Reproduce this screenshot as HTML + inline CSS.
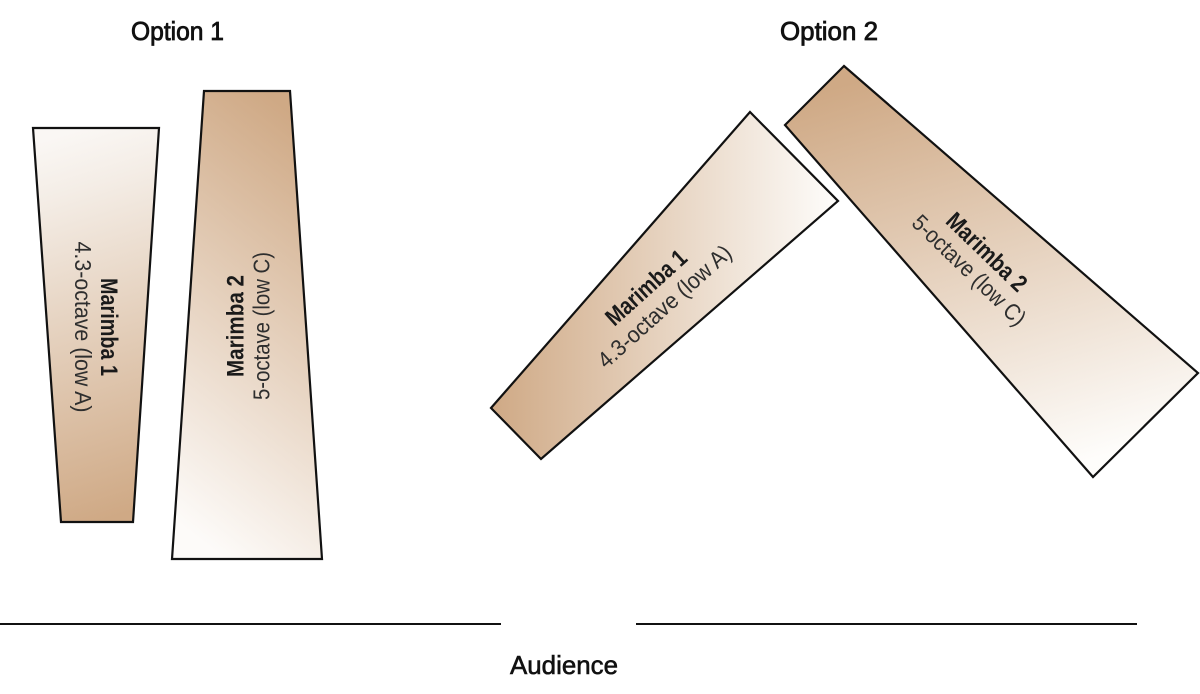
<!DOCTYPE html>
<html>
<head>
<meta charset="utf-8">
<style>
  html, body { margin:0; padding:0; background:#ffffff; }
  body { width:1200px; height:694px; overflow:hidden; }
  svg { display:block; }
  text { font-family: "Liberation Sans", "DejaVu Sans", sans-serif; }
</style>
</head>
<body>
<svg width="1200" height="694" viewBox="0 0 1200 694" xmlns="http://www.w3.org/2000/svg">
  <defs>
    <linearGradient id="g1" x1="0.4" y1="0" x2="0.5" y2="1">
      <stop offset="0" stop-color="#faf7f4"/>
      <stop offset="0.15" stop-color="#f4ede6"/>
      <stop offset="1" stop-color="#cfa985"/>
    </linearGradient>
    <linearGradient id="g2" x1="0.6" y1="0" x2="0.35" y2="1">
      <stop offset="0" stop-color="#cfa985"/>
      <stop offset="1" stop-color="#fdfbf9"/>
    </linearGradient>
    <linearGradient id="g3" x1="0" y1="0.5" x2="1" y2="0.5">
      <stop offset="0" stop-color="#cfa985"/>
      <stop offset="1" stop-color="#fefdfb"/>
    </linearGradient>
    <linearGradient id="g4" x1="0.3" y1="0" x2="0.6" y2="1">
      <stop offset="0" stop-color="#cfa985"/>
      <stop offset="1" stop-color="#fefdfb"/>
    </linearGradient>
  </defs>

  <!-- Titles -->
  <text x="131" y="40" font-size="26" fill="#111" stroke="#111" stroke-width="0.8" textLength="93" lengthAdjust="spacingAndGlyphs">Option 1</text>
  <text x="780" y="40" font-size="26" fill="#111" stroke="#111" stroke-width="0.8" textLength="98" lengthAdjust="spacingAndGlyphs">Option 2</text>

  <!-- Option 1 shapes -->
  <polygon points="33,128 159,128 133,522 61,522" fill="url(#g1)" stroke="#111" stroke-width="2.2" stroke-linejoin="miter"/>
  <polygon points="204,91 290,91 322,559 172,559" fill="url(#g2)" stroke="#111" stroke-width="2.2" stroke-linejoin="miter"/>

  <!-- Option 2 shapes -->
  <polygon points="750,112 838,201 541,459 491,408" fill="url(#g3)" stroke="#111" stroke-width="2.2" stroke-linejoin="miter"/>
  <polygon points="844,66 1198,373 1093,477 785,125" fill="url(#g4)" stroke="#111" stroke-width="2.2" stroke-linejoin="miter"/>

  <!-- Option 1 Marimba 1 labels -->
  <g transform="translate(96,327) rotate(90)">
    <text x="-49" y="-5" font-size="24" font-weight="bold" fill="#1a1a1a" textLength="98" lengthAdjust="spacingAndGlyphs">Marimba 1</text>
    <text x="-85.5" y="21" font-size="23" fill="#2e2e2e" textLength="171" lengthAdjust="spacingAndGlyphs">4.3-octave (low A)</text>
  </g>

  <!-- Option 1 Marimba 2 labels -->
  <g transform="translate(248.5,326) rotate(-90)">
    <text x="-51" y="-5" font-size="24" font-weight="bold" fill="#1a1a1a" textLength="102" lengthAdjust="spacingAndGlyphs">Marimba 2</text>
    <text x="-74" y="21" font-size="23" fill="#2e2e2e" textLength="148" lengthAdjust="spacingAndGlyphs">5-octave (low C)</text>
  </g>

  <!-- Option 2 Marimba 1 labels -->
  <g transform="translate(656,297) rotate(-42)">
    <text x="-51" y="-5.5" font-size="24" font-weight="bold" fill="#1a1a1a" textLength="100" lengthAdjust="spacingAndGlyphs">Marimba 1</text>
    <text x="-85.5" y="20.5" font-size="23" fill="#2e2e2e" textLength="171" lengthAdjust="spacingAndGlyphs">4.3-octave (low A)</text>
  </g>

  <!-- Option 2 Marimba 2 labels -->
  <g transform="translate(978,261) rotate(44)">
    <text x="-51" y="-4.5" font-size="24" font-weight="bold" fill="#1a1a1a" textLength="102" lengthAdjust="spacingAndGlyphs">Marimba 2</text>
    <text x="-74" y="20.5" font-size="23" fill="#2e2e2e" textLength="148" lengthAdjust="spacingAndGlyphs">5-octave (low C)</text>
  </g>

  <!-- Audience lines -->
  <line x1="0" y1="624" x2="501" y2="624" stroke="#111" stroke-width="2"/>
  <line x1="636" y1="624" x2="1137" y2="624" stroke="#111" stroke-width="2"/>
  <text x="510" y="674" font-size="26" fill="#111" stroke="#111" stroke-width="0.6" textLength="108" lengthAdjust="spacingAndGlyphs">Audience</text>
</svg>
</body>
</html>
